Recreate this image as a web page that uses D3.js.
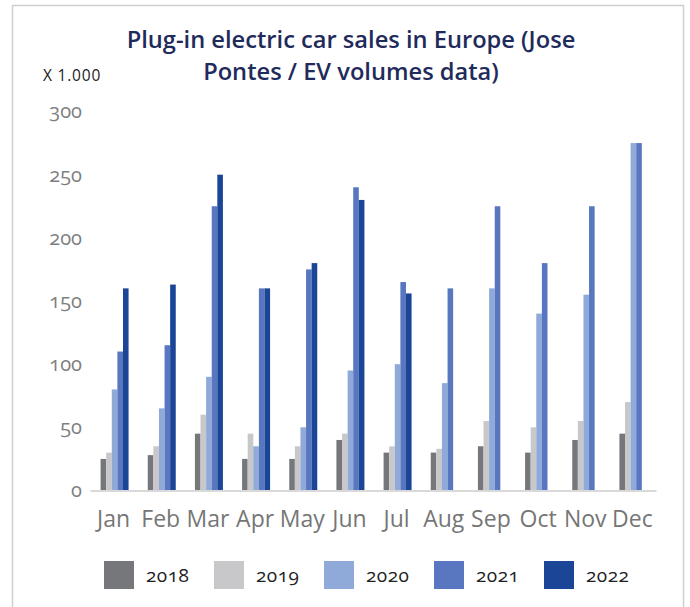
<!DOCTYPE html>
<html>
<head>
<meta charset="utf-8">
<script src="https://cdn.jsdelivr.net/npm/d3@7"></script>
<style>
  html, body { margin: 0; padding: 0; background: #ffffff; }
  svg { display: block; }
  text { font-family: "Open Sans", "Noto Sans", sans-serif; }
  .num { font-variant-numeric: oldstyle-nums; font-feature-settings: "onum" 1; }
</style>
</head>
<body>
<svg id="chart" width="690" height="607"></svg>
<script>
// Monthly plug-in car sales, thousands of units
const months = ["Jan", "Feb", "Mar", "Apr", "May", "Jun", "Jul", "Aug", "Sep", "Oct", "Nov", "Dec"];
const years = ["2018", "2019", "2020", "2021", "2022"];
const sales2018 = [25, 28, 45, 25, 25, 40, 30, 30, 35, 30, 40, 45];
const sales2019 = [30, 35, 60, 45, 35, 45, 35, 33, 55, 50, 55, 70];
const sales2020 = [80, 65, 90, 35, 50, 95, 100, 85, 160, 140, 155, 275];
const sales2021 = [110, 115, 225, 160, 175, 240, 165, 160, 225, 180, 225, 275];
const sales2022 = [160, 163, 250, 160, 180, 230, 156, null, null, null, null, null];
const yTicks = [0, 50, 100, 150, 200, 250, 300];
const yearColors = ["#76777b", "#c8c8ca", "#8fa9d9", "#5877c0", "#1b4597"];

const seriesValues = [sales2018, sales2019, sales2020, sales2021, sales2022];

const svg = d3.select("#chart");

// outer frame
svg.append("rect")
  .attr("x", 12.5).attr("y", 5.5)
  .attr("width", 671).attr("height", 620)
  .attr("fill", "none").attr("stroke", "#d0d0d0").attr("stroke-width", 1.5);

// title
const title = svg.append("text")
  .attr("x", 351).attr("text-anchor", "middle")
  .attr("fill", "#1f2b5b").attr("font-weight", 600).attr("font-size", 22);
const t1 = title.append("tspan").attr("x", 351).attr("y", 48)
  .text("Plug-in electric car sales in Europe (Jose");
title.append("tspan").attr("x", 351).attr("y", 80)
  .text("Pontes / EV volumes data)");
// fit the first title line to its intended width
const w1 = t1.node().getComputedTextLength();
title.attr("font-size", 22 * 449 / w1);

// unit label
svg.append("text")
  .attr("x", 43).attr("y", 80.5)
  .attr("fill", "#222222").attr("font-size", 15.5)
  .attr("letter-spacing", 0.8)
  .text("X 1.000");

// scales
const x0 = d3.scaleBand().domain(months).range([90, 656]).padding(0);
const groupW = 28;
const x1 = d3.scaleBand().domain(years)
  .range([(x0.bandwidth() - groupW) / 2 + 1, (x0.bandwidth() + groupW) / 2 + 1])
  .padding(0);
const y = d3.scaleLinear().domain([0, 300]).range([490.5, 111.5]);

// y axis labels (no axis line)
const yAxis = d3.axisLeft(y).tickValues(yTicks).tickSize(0).tickPadding(0);
const yG = svg.append("g").attr("transform", "translate(82,0)").call(yAxis);
yG.select(".domain").remove();
yG.selectAll("text")
  .attr("class", "num")
  .attr("font-family", "\"Open Sans\", sans-serif")
  .attr("font-size", 20).attr("fill", "#7f7f7f");

// bars
const groups = svg.append("g").selectAll("g")
  .data(months)
  .join("g")
  .attr("transform", d => `translate(${x0(d)},0)`);

groups.selectAll("rect")
  .data((m, i) => years.map((yr, k) => ({ year: yr, k, value: seriesValues[k][i] }))
    .filter(d => d.value != null))
  .join("rect")
  .attr("x", d => x1(d.year))
  .attr("width", x1.bandwidth())
  .attr("y", d => y(d.value))
  .attr("height", d => y(0) - y(d.value))
  .attr("fill", d => yearColors[d.k]);

// x axis
const xAxis = d3.axisBottom(x0).tickSize(0).tickPadding(0);
const xG = svg.append("g").attr("transform", `translate(0,${y(0)})`).call(xAxis);
xG.select(".domain").attr("stroke", "#d9d9d9").attr("stroke-width", 2);
xG.selectAll("text")
  .attr("font-family", "\"Open Sans\", sans-serif")
  .attr("font-size", 23).attr("fill", "#767676")
  .attr("dy", null).attr("y", 36);

// legend
const legend = svg.append("g").selectAll("g")
  .data(years)
  .join("g")
  .attr("transform", (d, i) => `translate(${104 + i * 110},561)`);
legend.append("rect")
  .attr("width", 30).attr("height", 28)
  .attr("fill", (d, i) => yearColors[i]);
legend.append("text")
  .attr("class", "num")
  .attr("x", 42).attr("y", 21)
  .attr("font-size", 19).attr("fill", "#222222")
  .attr("letter-spacing", 0.5)
  .text(d => d);
</script>
</body>
</html>
